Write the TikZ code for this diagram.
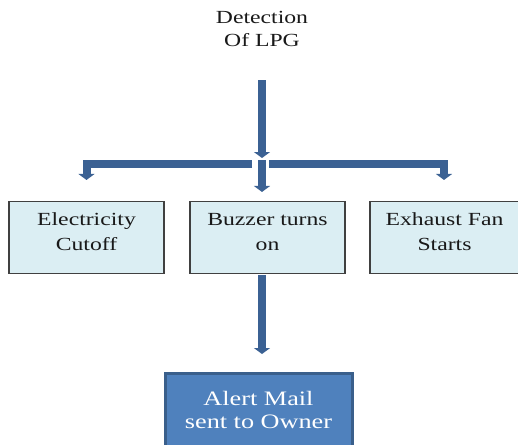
\documentclass[tikz,border=0pt]{standalone}
\usepackage{fontspec}
\setmainfont{Liberation Serif}[FakeStretch=1.28]
\usetikzlibrary{arrows.meta}
\definecolor{flowblue}{HTML}{3B6193}
\definecolor{boxfill}{HTML}{DBEEF3}
\definecolor{mailfill}{HTML}{4F81BD}
\definecolor{mailedge}{HTML}{3A5F8B}
\newcommand\boxlines[1]{\raisebox{5pt}[\height][\depth]{\begin{tabular}{@{}c@{}}#1\end{tabular}}}

\begin{document}
\begin{tikzpicture}[x=1pt,y=-1pt,
  flow/.style={draw=flowblue, line width=8pt, -{Triangle[width=16pt,length=6pt]}},
  stage/.style={draw=black!75, line width=1.1pt, fill=boxfill, minimum width=155pt, minimum height=72pt, inner sep=0pt, text=black!90, font=\fontsize{18.5}{25}\selectfont},
  mail/.style={draw=mailedge, line width=3pt, fill=mailfill, text=white, minimum width=187pt, minimum height=74pt, align=center, font=\fontsize{20.5}{23}\selectfont}]
\useasboundingbox (0,0) rectangle (518,444);

\node[align=center, text=black!90, font=\fontsize{18.5}{23}\selectfont] (lpg) at (262,29) {Detection\\Of LPG};

\node[stage] (elec) at (86.5,237.5) {\boxlines{Electricity\\Cutoff}};
\node[stage] (buzz) at (267.5,237.5) {\boxlines{Buzzer turns\\on}};
\node[stage, minimum width=152pt] (fan) at (446,237.5) {\raisebox{5pt}[\height][\depth]{\hspace*{-3pt}\begin{tabular}{@{}c@{}}Exhaust Fan\\Starts\end{tabular}}};
\node[mail] (mail) at (258.5,410) {Alert Mail\\sent to Owner};

\coordinate (feed) at (262,80);
\coordinate (hub) at (262,164);

\draw[flow, shorten >=6pt] (feed) -- (hub);
\draw[flow, shorten <=-4pt, shorten >=9pt] (hub) -- (hub |- buzz.north);
\draw[flow, shorten >=21pt] ([xshift=-10pt]hub) -| (elec.north);
\draw[flow, shorten >=21pt] ([xshift=7pt]hub) -| ([xshift=-2pt]fan.north);
\draw[flow, shorten <=1pt, shorten >=17.5pt] (hub |- buzz.south) -- (hub |- mail.north);
\end{tikzpicture}
\end{document}
